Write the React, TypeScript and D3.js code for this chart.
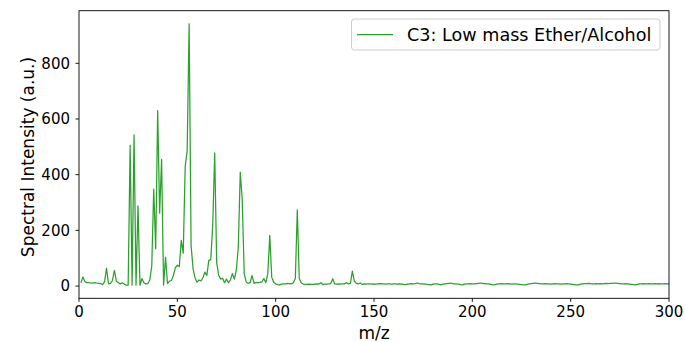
import React from "react";
import * as d3 from "d3";

// m/z channels 1..300 and their intensities (a.u.)
const mzStart = 1;
const intensity: number[] = [
  // 1-25
  12, 33, 16, 12, 12, 11, 11, 12, 11, 10, 9, 5, 16, 64, 8, 10, 20, 56, 18, 12, 8, 12, 7, 3, 3,
  // 26-50
  505, 3, 543, 3, 288, 3, 27, 12, 8, 9, 22, 72, 348, 134, 630, 262, 455, 3, 104, 9, 18, 20, 38, 66, 75,
  // 51-75
  70, 164, 118, 430, 485, 942, 145, 62, 30, 14, 22, 18, 30, 50, 38, 92, 95, 220, 478, 85, 40, 25, 28, 12, 25,
  // 76-100
  12, 22, 45, 25, 57, 140, 409, 310, 45, 15, 10, 12, 38, 10, 12, 12, 13, 15, 27, 12, 45, 182, 32, 14, 8,
  // 101-125
  5, 4, 7, 8, 8, 10, 9, 8, 12, 27, 274, 27, 12, 7, 6, 6, 7, 6, 6, 7, 8, 7, 12, 5, 7,
  // 126-150
  7, 8, 9, 26, 8, 7, 8, 7, 8, 8, 12, 8, 10, 54, 18, 10, 8, 11, 6, 8, 7, 8, 8, 7, 8,
  // 151-175
  7, 8, 9, 8, 8, 7, 8, 8, 7, 8, 8, 7, 8, 7, 6, 5, 7, 8, 9, 8, 9, 11, 9, 8, 8,
  // 176-200
  7, 6, 5, 4, 7, 8, 8, 6, 4, 7, 8, 9, 10, 11, 9, 8, 8, 7, 5, 4, 7, 8, 8, 9, 8,
  // 201-225
  8, 9, 10, 11, 10, 9, 8, 8, 7, 5, 4, 6, 8, 8, 9, 8, 8, 9, 8, 7, 8, 8, 7, 6, 5,
  // 226-250
  4, 4, 6, 8, 9, 10, 11, 10, 9, 8, 8, 9, 8, 8, 7, 8, 9, 8, 8, 7, 8, 8, 9, 8, 7,
  // 251-275
  6, 5, 4, 4, 7, 8, 9, 9, 10, 9, 8, 8, 9, 8, 9, 8, 9, 10, 9, 10, 10, 11, 11, 10, 9,
  // 276-300
  8, 8, 9, 8, 7, 6, 5, 4, 6, 8, 8, 9, 8, 8, 9, 8, 8, 9, 8, 9, 8, 8, 9, 8, 8,
];

const xTicks = [0, 50, 100, 150, 200, 250, 300];
const yTicks = [0, 200, 400, 600, 800];
const seriesName = "C3: Low mass Ether/Alcohol";
const xLabel = "m/z";
const yLabel = "Spectral Intensity (a.u.)";

const W = 685;
const H = 342;
const plot = { left: 79, right: 669, top: 10.7, bottom: 298.3 };
const green = "#2ca02c";
const font = "'DejaVu Sans', sans-serif";

export default function App() {
  const points = intensity.map((v, i) => ({ mz: mzStart + i, v }));

  const [lo, hi] = d3.extent(intensity) as [number, number];
  const pad = 0.05 * (hi - lo);

  const x = d3.scaleLinear().domain([0, 300]).range([plot.left, plot.right]);
  const y = d3.scaleLinear().domain([lo - pad, hi + pad]).range([plot.bottom, plot.top]);

  const line = d3
    .line<{ mz: number; v: number }>()
    .x((d) => x(d.mz))
    .y((d) => y(d.v));

  const tickLen = 3.5;

  return (
    <svg
      width={W}
      height={H}
      style={{ position: "absolute", left: 0, top: 0, background: "#fff" }}
      fontFamily={font}
    >
      <defs>
        <clipPath id="plotClip">
          <rect x={plot.left} y={plot.top} width={plot.right - plot.left} height={plot.bottom - plot.top} />
        </clipPath>
      </defs>

      <path
        d={line(points) ?? ""}
        fill="none"
        stroke={green}
        strokeWidth={1.25}
        strokeLinejoin="round"
        clipPath="url(#plotClip)"
      />

      {/* frame */}
      <rect
        x={plot.left}
        y={plot.top}
        width={plot.right - plot.left}
        height={plot.bottom - plot.top}
        fill="none"
        stroke="#000"
        strokeWidth={0.9}
      />

      {/* x axis ticks */}
      {xTicks.map((t) => (
        <g key={"x" + t}>
          <line x1={x(t)} x2={x(t)} y1={plot.bottom} y2={plot.bottom + tickLen} stroke="#000" strokeWidth={0.9} />
          <text x={x(t)} y={plot.bottom + 19} textAnchor="middle" fontSize={15} fill="#000">
            {t}
          </text>
        </g>
      ))}

      {/* y axis ticks */}
      {yTicks.map((t) => (
        <g key={"y" + t}>
          <line x1={plot.left - tickLen} x2={plot.left} y1={y(t)} y2={y(t)} stroke="#000" strokeWidth={0.9} />
          <text x={plot.left - 9} y={y(t)} dy="0.36em" textAnchor="end" fontSize={15} fill="#000">
            {t}
          </text>
        </g>
      ))}

      <text x={(plot.left + plot.right) / 2} y={339} textAnchor="middle" fontSize={17} fill="#000">
        {xLabel}
      </text>
      <text
        transform={`translate(28,157) rotate(-90)`}
        textAnchor="middle"
        dy="0.36em"
        fontSize={17}
        fill="#000"
      >
        {yLabel}
      </text>

      {/* legend */}
      <g>
        <rect x={351.5} y={19} width={308.5} height={31} rx={3} fill="#fff" fillOpacity={0.8} stroke="#cccccc" strokeWidth={1} />
        <line x1={357} x2={393} y1={34.5} y2={34.5} stroke={green} strokeWidth={1.25} />
        <text x={407} y={34.5} dy="0.36em" fontSize={17.6} fill="#000">
          {seriesName}
        </text>
      </g>
    </svg>
  );
}
